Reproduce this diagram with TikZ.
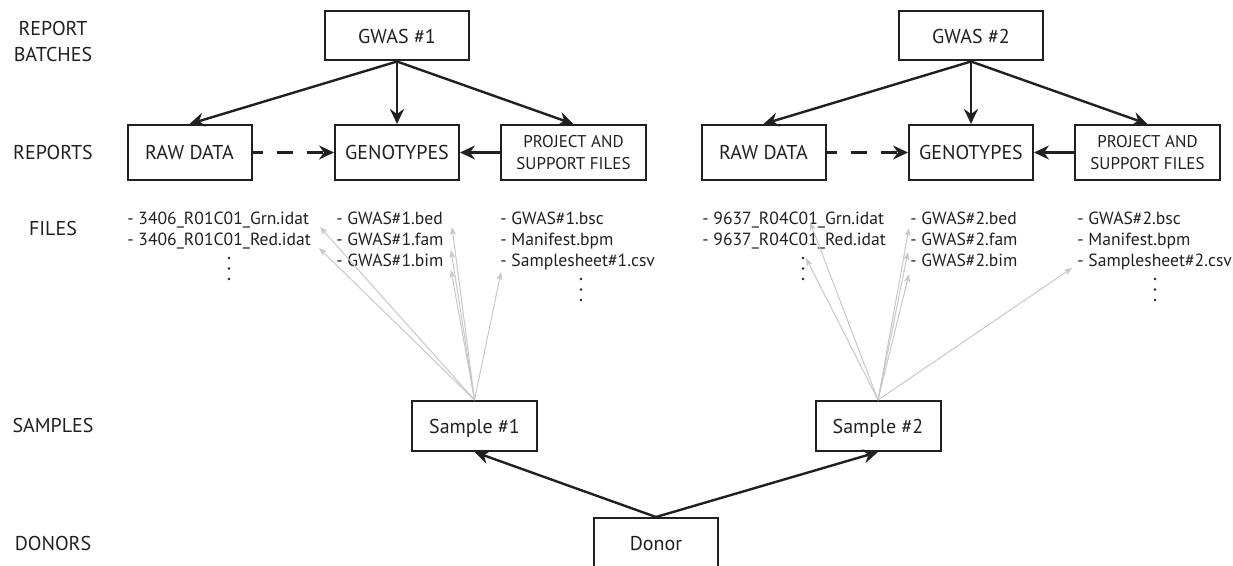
\documentclass[tikz,border=0pt]{standalone}
\usepackage{fontspec}
\setmainfont{PT Sans}
\usetikzlibrary{arrows.meta}
\definecolor{ink}{RGB}{35,31,32}
\definecolor{link}{RGB}{200,200,200}
\begin{document}
\begin{tikzpicture}[x=0.5pt,y=-0.5pt,
  box/.style={draw=ink, line width=1pt, text=ink, font=\fontsize{10}{12}\selectfont,
    inner sep=0pt, align=center, text depth=0pt},
  repbox/.style={box, minimum width=62pt, minimum height=27.5pt},
  projbox/.style={box, minimum width=72.5pt, minimum height=27.5pt,
    font=\fontsize{8.5}{10.75}\selectfont},
  batchbox/.style={box, minimum width=72pt, minimum height=24.5pt},
  samplebox/.style={box, minimum width=62.5pt, minimum height=25pt},
  rowlabel/.style={text=ink, font=\fontsize{10}{13}\selectfont, align=center,
    inner sep=0pt, text depth=0pt},
  file/.style={text=ink, font=\fontsize{8.8}{10}\selectfont, anchor=base west, inner sep=0pt},
  flow/.style={draw=ink, line width=1.2pt, -{Stealth[length=7.5pt,width=7pt,inset=2.5pt]}},
  ref/.style={draw=link, line width=0.5pt, -{Stealth[length=4pt,width=3pt,inset=1pt]}}
]
\useasboundingbox (0,0) rectangle (1233,566);

% level labels
\node[rowlabel] (lbatch) at (53,41.5) {REPORT\\BATCHES};
\node[rowlabel] (lrep) at (53,152.5) {REPORTS};
\node[rowlabel] (lfile) at (53,228) {FILES};
\node[rowlabel] (lsamp) at (53,425) {SAMPLES};
\node[rowlabel] (ldon) at (53,543) {DONORS};

% report batches and reports
\node[batchbox] (gwas1) at (397,36) {GWAS \#1};
\node[repbox] (raw1) at (189.5,152.5) {RAW DATA};
\node[repbox] (geno1) at (397,152.5) {GENOTYPES};
\node[projbox] (proj1) at (573.5,152.5) {PROJECT AND\\SUPPORT FILES};

\node[batchbox] (gwas2) at (971,36) {GWAS \#2};
\node[repbox] (raw2) at (763.5,152.5) {RAW DATA};
\node[repbox] (geno2) at (971,152.5) {GENOTYPES};
\node[projbox] (proj2) at (1147.5,152.5) {PROJECT AND\\SUPPORT FILES};

% files
\node[file] (grn1) at (127,225) {- 3406\_R01C01\_Grn.idat};
\node[file] (red1) at (127,246) {- 3406\_R01C01\_Red.idat};
\node[file] (bed1) at (336,225) {- GWAS\#1.bed};
\node[file] (fam1) at (336,246) {- GWAS\#1.fam};
\node[file] (bim1) at (336,267) {- GWAS\#1.bim};
\node[file] (bsc1) at (500,225) {- GWAS\#1.bsc};
\node[file] (bpm1) at (500,246) {- Manifest.bpm};
\node[file] (csv1) at (500,267) {- Samplesheet\#1.csv};

\node[file] (grn2) at (702,225) {- 9637\_R04C01\_Grn.idat};
\node[file] (red2) at (702,246) {- 9637\_R04C01\_Red.idat};
\node[file] (bed2) at (910,225) {- GWAS\#2.bed};
\node[file] (fam2) at (910,246) {- GWAS\#2.fam};
\node[file] (bim2) at (910,267) {- GWAS\#2.bim};
\node[file] (bsc2) at (1077,225) {- GWAS\#2.bsc};
\node[file] (bpm2) at (1077,246) {- Manifest.bpm};
\node[file] (csv2) at (1077,267) {- Samplesheet\#2.csv};

% "more files" marks: three stacked dots
\foreach \x/\y in {229/258, 581/279, 803/258, 1155/279}
  \foreach \k in {0,1,2}
    \fill[ink] (\x,\y+10.5*\k) circle[radius=0.65pt];

% samples and donor
\node[samplebox] (s1) at (474.5,426) {Sample \#1};
\node[samplebox] (s2) at (878,426) {Sample \#2};
\node[samplebox, minimum width=62pt] (donor) at (656,543) {Donor};

% ends of the file references
\coordinate (t1grn) at (320,227);
\coordinate (t1red) at (319,248);
\coordinate (t1bed) at (452,227);
\coordinate (t1fam) at (451,250);
\coordinate (t1bim) at (451,270);
\coordinate (t1csv) at (501,272);
\coordinate (t2grn) at (810,222);
\coordinate (t2red) at (806,258);
\coordinate (t2bed) at (909,228);
\coordinate (t2fam) at (908,252);
\coordinate (t2bim) at (909,274);
\coordinate (t2csv) at (1072,268);

% sample -> file references
\foreach \t in {t1grn,t1red,t1bed,t1fam,t1bim,t1csv}
  \draw[ref] (s1.north) -- (\t);
\foreach \t in {t2grn,t2red,t2bed,t2fam,t2bim,t2csv}
  \draw[ref] (s2.north) -- (\t);

% batch -> reports
\foreach \g/\r/\p/\b in {gwas1/raw1/geno1/proj1, gwas2/raw2/geno2/proj2}{
  \draw[flow] (\g.south) -- (\r.north);
  \draw[flow] (\g.south) -- (\p.north);
  \draw[flow] (\g.south) -- (\b.north);
  \draw[flow] (\b.west) -- (\p.east);
  \draw[flow, dash pattern=on 8pt off 7pt, dash phase=3pt] (\r.east) -- (\p.west);
}

% donor -> samples
\draw[flow] (donor.north) -- (s1.south);
\draw[flow] (donor.north) -- (s2.south);
\end{tikzpicture}
\end{document}
